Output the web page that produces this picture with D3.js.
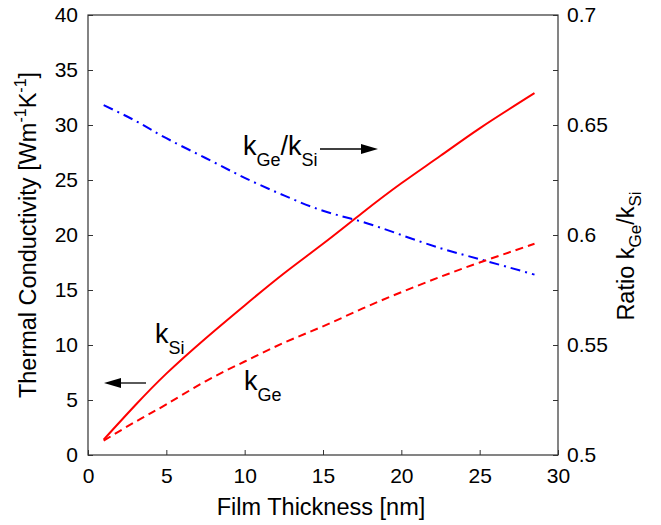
<!DOCTYPE html>
<html lang="en">
<head>
<meta charset="UTF-8">
<title>Thermal Conductivity vs Film Thickness</title>
<script src="https://d3js.org/d3.v7.min.js"></script>
<style>
  * { margin: 0; padding: 0; }
  body { background: #fff; }
  svg { display: block; font-family: "Liberation Sans", Arial, sans-serif; }
</style>
</head>
<body>
<div id="chart"></div>
<script>
// values
const thickness = [1, 3, 5, 7.5, 10, 12.5, 15, 17.5, 20, 22.5, 25, 28.5];
const kSi   = [1.4, 4.5, 7.4, 10.6, 13.6, 16.5, 19.2, 22.0, 24.7, 27.2, 29.7, 32.9];
const kGe   = [1.3, 3.0, 4.6, 6.7, 8.5, 10.2, 11.7, 13.3, 14.8, 16.2, 17.5, 19.2];
const ratio = [0.659, 0.652, 0.644, 0.635, 0.626, 0.618, 0.611, 0.606, 0.600, 0.594, 0.589, 0.582];

const xTicks = [0, 5, 10, 15, 20, 25, 30];
const yTicks = [0, 5, 10, 15, 20, 25, 30, 35, 40];
const y2Ticks = [0.5, 0.525, 0.55, 0.575, 0.6, 0.625, 0.65, 0.675, 0.7];

const W = 661, H = 525;
const mLeft = 88, mRight = 558, mTop = 15, mBottom = 455;

const svg = d3.select("#chart").append("svg")
    .attr("width", W).attr("height", H);

const x = d3.scaleLinear().domain([0, 30]).range([mLeft, mRight]);
const y = d3.scaleLinear().domain([0, 40]).range([mBottom, mTop]);
const y2 = d3.scaleLinear().domain([0.5, 0.7]).range([mBottom, mTop]);

// axes with inward ticks
const xAxis = d3.axisBottom(x).tickValues(xTicks).tickSizeInner(-5).tickSizeOuter(0).tickPadding(13);
const yAxis = d3.axisLeft(y).tickValues(yTicks).tickSizeInner(-5).tickSizeOuter(0).tickPadding(10);
const y2Axis = d3.axisRight(y2).tickValues(y2Ticks).tickSizeInner(-5).tickSizeOuter(0).tickPadding(9)
    .tickFormat(d => (Math.round(d * 1000) % 50 === 0) ? String(+d.toFixed(2)) : "");

const gx = svg.append("g").attr("transform", `translate(0,${mBottom})`).call(xAxis);
const gy = svg.append("g").attr("transform", `translate(${mLeft},0)`).call(yAxis);
const gy2 = svg.append("g").attr("transform", `translate(${mRight},0)`).call(y2Axis);

[gx, gy, gy2].forEach(g => {
  g.selectAll("text").attr("font-size", 21).attr("fill", "#000")
    .attr("font-family", "Liberation Sans, Arial, sans-serif");
  g.selectAll("line").attr("stroke", "#333");
  g.select(".domain").remove();
});

// frame
svg.append("rect")
  .attr("x", mLeft).attr("y", mTop)
  .attr("width", mRight - mLeft).attr("height", mBottom - mTop)
  .attr("fill", "none").attr("stroke", "#333").attr("stroke-width", 1.2);

const line = d3.line().curve(d3.curveNatural);

svg.append("path")
  .attr("d", line(thickness.map((t, i) => [x(t), y2(ratio[i])])))
  .attr("fill", "none").attr("stroke", "#0000ff").attr("stroke-width", 2)
  .attr("stroke-dasharray", "10,5,2,5");

svg.append("path")
  .attr("d", line(thickness.map((t, i) => [x(t), y(kSi[i])])))
  .attr("fill", "none").attr("stroke", "#ff0000").attr("stroke-width", 2);

svg.append("path")
  .attr("d", line(thickness.map((t, i) => [x(t), y(kGe[i])])))
  .attr("fill", "none").attr("stroke", "#ff0000").attr("stroke-width", 2)
  .attr("stroke-dasharray", "8,5");

// axis titles
svg.append("text")
  .attr("x", (mLeft + mRight) / 2 - 2).attr("y", 515)
  .attr("text-anchor", "middle").attr("font-size", 23.5)
  .text("Film Thickness [nm]");

const yt = svg.append("text")
  .attr("transform", `translate(36,${(mTop + mBottom) / 2}) rotate(-90)`)
  .attr("text-anchor", "middle").attr("font-size", 23.5);
yt.append("tspan").text("Thermal Conductivity [Wm");
yt.append("tspan").attr("font-size", 16).attr("dy", -10).text("-1");
yt.append("tspan").attr("dy", 10).text("K");
yt.append("tspan").attr("font-size", 16).attr("dy", -10).text("-1");
yt.append("tspan").attr("dy", 10).text("]");

const y2t = svg.append("text")
  .attr("transform", `translate(634,256) rotate(-90)`)
  .attr("text-anchor", "middle").attr("font-size", 23.5);
y2t.append("tspan").text("Ratio k");
y2t.append("tspan").attr("font-size", 17).attr("dy", 7).text("Ge");
y2t.append("tspan").attr("dy", -7).text("/k");
y2t.append("tspan").attr("font-size", 17).attr("dy", 7).text("Si");

// annotations
function label(px, py, main, sub, sub2) {
  const t = svg.append("text").attr("x", px).attr("y", py).attr("font-size", 27);
  t.append("tspan").text(main);
  t.append("tspan").attr("font-size", 18).attr("dy", 11).text(sub);
  if (sub2) {
    t.append("tspan").attr("dy", -11).text("/k");
    t.append("tspan").attr("font-size", 18).attr("dy", 11).text(sub2);
  }
}
label(243, 155, "k", "Ge", "Si");
label(155, 343, "k", "Si");
label(244, 390, "k", "Ge");

function arrow(x1, x2, yy) {
  const dir = Math.sign(x2 - x1);
  svg.append("line").attr("x1", x1).attr("x2", x2 - dir * 14)
    .attr("y1", yy).attr("y2", yy).attr("stroke", "#000").attr("stroke-width", 1.3);
  svg.append("path")
    .attr("d", `M${x2},${yy} L${x2 - dir * 17},${yy - 5} L${x2 - dir * 17},${yy + 5} Z`)
    .attr("fill", "#000");
}
arrow(320, 378, 149);
arrow(146, 104, 383);
</script>
</body>
</html>
